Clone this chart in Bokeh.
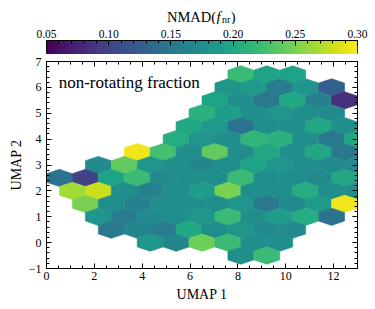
import numpy as np
from bokeh.plotting import figure
from bokeh.models import (Range1d, FixedTicker, LinearAxis, Label, ColumnDataSource,
                          LinearColorMapper, PrintfTickFormatter, CustomJSTickFormatter)
from bokeh.palettes import Viridis256
from bokeh.transform import linear_cmap
from bokeh.layouts import column
from bokeh.embed import file_html
from bokeh.resources import INLINE

FONT = "Liberation Serif"

# ---------------- data ----------------
# hexbin rows (UMAP 2 value of the row), index of the first filled column, NMAD values
row_y = [6.5, 6.0, 5.5, 5.0, 4.5, 4.0, 3.5, 3.0, 2.5, 2.0, 1.5, 1.0, 0.5, 0.0, -0.5]
row_first_col = [7, 7, 6, 6, 5, 5, 3, 2, 0, 1, 1, 2, 2, 4, 7]
nmad_rows = [
    [0.220, 0.195, 0.195],
    [0.180, 0.185, 0.155, 0.180, 0.125],
    [0.195, 0.175, 0.150, 0.200, 0.160, 0.085],
    [0.210, 0.190, 0.175, 0.180, 0.175, 0.170],
    [0.200, 0.185, 0.145, 0.175, 0.175, 0.200, 0.175],
    [0.205, 0.180, 0.175, 0.215, 0.210, 0.175, 0.150, 0.200],
    [0.295, 0.225, 0.175, 0.240, 0.175, 0.200, 0.175, 0.200, 0.150],
    [0.170, 0.240, 0.180, 0.175, 0.165, 0.175, 0.195, 0.180, 0.175, 0.170, 0.170],
    [0.145, 0.100, 0.195, 0.220, 0.170, 0.175, 0.175, 0.220, 0.175, 0.175, 0.170, 0.200],
    [0.265, 0.280, 0.175, 0.160, 0.175, 0.190, 0.250, 0.175, 0.175, 0.205, 0.175, 0.175],
    [0.250, 0.175, 0.160, 0.175, 0.175, 0.175, 0.180, 0.150, 0.170, 0.185, 0.295],
    [0.180, 0.155, 0.170, 0.175, 0.180, 0.220, 0.175, 0.190, 0.205, 0.145],
    [0.150, 0.165, 0.155, 0.200, 0.175, 0.180, 0.170, 0.170],
    [0.180, 0.165, 0.245, 0.220, 0.175, 0.175],
    [0.175, 0.220],
]
hex_width = 13.0 / 12.0          # hexbin cell width in UMAP 1 units
row_step = 0.5                   # vertical distance between hex rows

x_ticks = [0, 2, 4, 6, 8, 10, 12]
y_ticks = [-1, 0, 1, 2, 3, 4, 5, 6, 7]
cbar_ticks = [0.05, 0.10, 0.15, 0.20, 0.25, 0.30]
cbar_low, cbar_high = 0.05, 0.30
x_lim = (0, 13)
y_lim = (-1, 7)

# ---------------- hex grid -> axial coordinates ----------------
size = row_step / 1.5
aspect = size * np.sqrt(3) / hex_width
qs, rs, vs = [], [], []
for y, c0, vals in zip(row_y, row_first_col, nmad_rows):
    r = int(round(-y / row_step))
    off = 0.0 if float(y).is_integer() else 0.5
    for k, v in enumerate(vals):
        col = c0 + k
        qs.append(int(round(col + off - r / 2.0)))
        rs.append(r)
        vs.append(v)
src = ColumnDataSource(dict(q=qs, r=rs, v=vs))

W = 375
LB, RB = 46, 18


def style_axis(ax, show_labels=True, fsize="12px"):
    ax.major_tick_in = 5
    ax.major_tick_out = 0
    ax.minor_tick_in = 3
    ax.minor_tick_out = 0
    ax.major_tick_line_color = "black"
    ax.minor_tick_line_color = "black"
    ax.axis_line_color = "black"
    ax.major_label_text_font = FONT
    ax.major_label_text_font_size = fsize
    ax.major_label_text_color = "black"
    ax.axis_label_text_font = FONT
    ax.axis_label_text_font_size = "14px"
    ax.axis_label_text_font_style = "normal"
    ax.axis_label_text_color = "black"
    if not show_labels:
        ax.formatter = CustomJSTickFormatter(code="return ''")
        ax.major_label_text_font_size = "0px"
        ax.major_label_standoff = 0


# ---------------- colour bar title ----------------
tf = figure(width=W, height=24, x_range=Range1d(0, 1), y_range=Range1d(0, 1),
            output_backend="svg", toolbar_location=None, x_axis_location=None,
            y_axis_location=None, min_border_left=LB, min_border_right=RB,
            min_border_top=0, min_border_bottom=0)
tf.outline_line_color = None
tf.grid.visible = False
tx0 = 120.5
for txt, dx, dy, fs, st in [("NMAD(", 0.0, 7.5, "14.5px", "normal"),
                             ("f", 49.6, 7.5, "14.5px", "italic"),
                             ("nr", 55.0, 5.0, "10px", "normal"),
                             (")", 63.8, 7.5, "14.5px", "normal")]:
    tf.add_layout(Label(x=tx0 + dx, y=dy, x_units="screen", y_units="screen", text=txt,
                        text_font=FONT, text_font_size=fs, text_font_style=st,
                        text_color="black", text_baseline="alphabetic", text_align="left"))

# ---------------- colour bar ----------------
cb = figure(width=W, height=30, x_range=Range1d(cbar_low, cbar_high), y_range=Range1d(0, 1),
            output_backend="svg", toolbar_location=None, x_axis_location="above",
            y_axis_location=None, min_border_left=LB, min_border_right=RB,
            min_border_top=16, min_border_bottom=0)
grad = np.linspace(cbar_low, cbar_high, 256)[None, :]
cb.image(image=[grad], x=cbar_low, y=0, dw=cbar_high - cbar_low, dh=1,
         color_mapper=LinearColorMapper(palette=Viridis256, low=cbar_low, high=cbar_high))
cb.grid.visible = False
cb.outline_line_color = "black"
cb.outline_line_alpha = 1
cax = cb.xaxis[0]
cax.ticker = FixedTicker(ticks=cbar_ticks, minor_ticks=list(np.round(np.arange(0.05, 0.3001, 0.01), 2)))
cax.formatter = PrintfTickFormatter(format="%.2f")
style_axis(cax, fsize="11.5px")
cax.major_label_standoff = 3

# ---------------- main hexbin figure ----------------
p = figure(width=W, height=255, x_range=Range1d(*x_lim), y_range=Range1d(*y_lim),
           output_backend="svg", toolbar_location=None, min_border_left=LB,
           min_border_right=RB, min_border_top=7, min_border_bottom=41)
cmap = linear_cmap("v", Viridis256, cbar_low, cbar_high)
p.hex_tile(q="q", r="r", size=size, orientation="pointytop", aspect_scale=aspect,
           source=src, fill_color=cmap, line_color=cmap, line_width=0.6)
p.grid.visible = False
p.outline_line_color = "black"
p.outline_line_alpha = 1

xt = FixedTicker(ticks=x_ticks, minor_ticks=list(np.arange(0, 13.01, 0.5)))
yt = FixedTicker(ticks=y_ticks, minor_ticks=list(np.round(np.arange(-1, 7.01, 0.2), 1)))

p.add_layout(LinearAxis(), "above")
p.add_layout(LinearAxis(), "right")
for ax in p.xaxis:
    ax.ticker = xt
for ax in p.yaxis:
    ax.ticker = yt

style_axis(p.below[0])
style_axis(p.left[0], fsize="12px")
style_axis(p.above[0], show_labels=False)
style_axis(p.right[0], show_labels=False)

p.below[0].axis_label = "UMAP 1"
p.left[0].axis_label = "UMAP 2"
p.below[0].major_label_standoff = 3
p.left[0].major_label_standoff = 5
p.below[0].axis_label_standoff = 4
p.left[0].axis_label_standoff = 2
p.left[0].major_label_overrides = {-1: "\u22121"}

p.add_layout(Label(x=0.51, y=6.2, text="non-rotating fraction", text_font=FONT,
                   text_font_size="17px", text_color="black", text_baseline="alphabetic"))

layout = column(tf, cb, p, spacing=0)
open("out.html", "w").write(file_html(layout, INLINE))
